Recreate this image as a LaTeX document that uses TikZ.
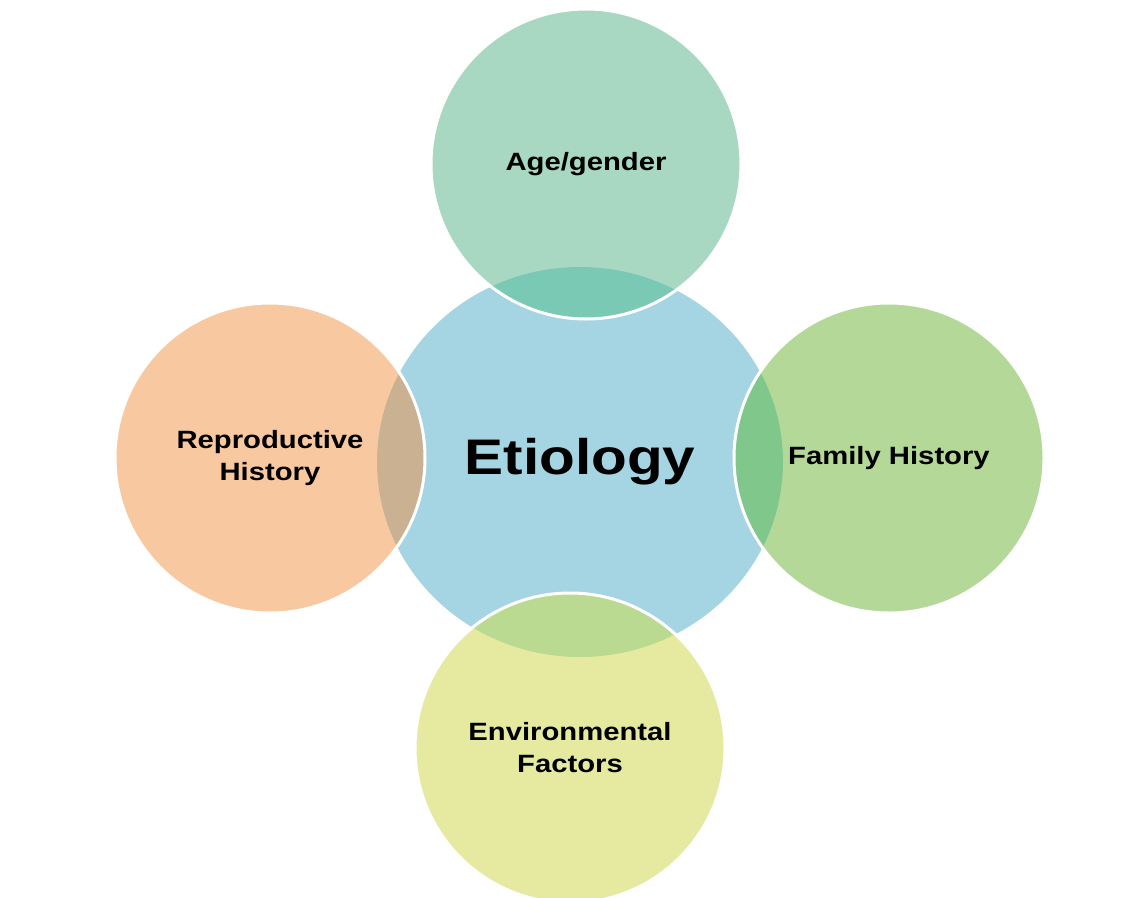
\documentclass[tikz,border=0pt]{standalone}
\usepackage{fontspec}
\setmainfont{Liberation Sans}[FakeStretch=1.17]
\usetikzlibrary{positioning,shapes.geometric}
\definecolor{HubBlue}{RGB}{165,212,226}
\definecolor{AgeTeal}{RGB}{168,215,194}
\definecolor{AgeDeep}{RGB}{122,201,181}
\definecolor{ReproOrange}{RGB}{248,201,160}
\definecolor{ReproDeep}{RGB}{202,177,145}
\definecolor{FamilyGreen}{RGB}{180,216,152}
\definecolor{FamilyDeep}{RGB}{128,199,140}
\definecolor{EnvYellow}{RGB}{230,234,160}
\definecolor{EnvDeep}{RGB}{186,218,146}
\tikzset{
  hub/.style={ellipse,fill=HubBlue,minimum width=406pt,minimum height=390pt,
    inner sep=0pt,font=\fontsize{50}{60}\selectfont\bfseries},
  factor/.style={circle,minimum size=310pt,inner sep=0pt,align=center,
    font=\fontsize{25}{32}\selectfont\bfseries},
  rim/.style={draw=white,line width=3pt}
}
\begin{document}
\begin{tikzpicture}[x=1pt,y=-1pt]
  \useasboundingbox (0,0) rectangle (1143,897);
  \node[hub] (etiology) at (580,462) {Etiology};
  \node[factor,fill=AgeTeal] (agegender) at (586,164) {Age/gender};
  \node[factor,fill=ReproOrange] (reproductive) at (270,458) {Reproductive\\History};
  \node[factor,fill=FamilyGreen] (family) at (889,458) {Family History};
  \node[factor,fill=EnvYellow] (environment) at (570,748) {Environmental\\Factors};
  % overlaps with the hub, then the white rims
  \foreach \sat/\deep in {agegender/AgeDeep,reproductive/ReproDeep,
      family/FamilyDeep,environment/EnvDeep} {
    \begin{scope}
      \clip (\sat.center) circle (155pt);
      \fill[\deep] (etiology.center) ellipse (203pt and 195pt);
    \end{scope}
    \draw[rim] (\sat.center) circle (155pt);
  }
\end{tikzpicture}
\end{document}
